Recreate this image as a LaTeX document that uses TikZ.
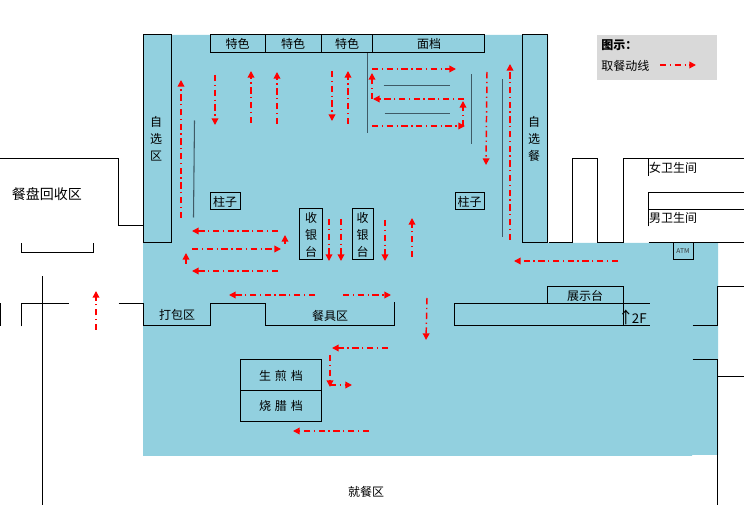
\documentclass[tikz,border=0pt]{standalone}
\usepackage{fontspec}
\setmainfont{Noto Sans CJK SC}
\usetikzlibrary{arrows.meta}
\definecolor{hallblue}{HTML}{92D0DF}
\definecolor{legendgray}{HTML}{D9D9D9}
\definecolor{railgray}{HTML}{3F5A66}
\tikzset{
  wall/.style={line width=0.75pt,black,xshift=0.375pt,yshift=-0.375pt},
  rail/.style={line width=0.8pt,railgray,xshift=0.375pt,yshift=-0.375pt},
  flow/.style={line width=1.1pt,red,dash pattern={on 4.8pt off 2.6pt on 1pt off 2.6pt},-{Triangle[length=5pt,width=5pt]}},
  label/.style={font=\fontsize{9}{9}\selectfont,inner sep=0pt,align=center,text=black},
  tall/.style={label,font=\fontsize{9}{12.8}\selectfont},
}
\begin{document}
\begin{tikzpicture}[x=0.75pt,y=0.75pt,yscale=-1]
\useasboundingbox (0,0) rectangle (744,506);

%Shape: hall floor
\fill [hallblue] (143,35) -- (548,35) -- (548,243) -- (718,243) -- (718,455) -- (692,455) -- (692,456) -- (143,456) -- cycle ;
%Shape: legend
\fill [legendgray] (597,35) rectangle (717,80) ;

%Straight Lines: walls, left
\draw [wall] (0,159) -- (118,159) -- (118,226) -- (143,226) ;
\draw [wall] (21,244) -- (21,253) -- (93,253) -- (93,244) ;
\draw [wall] (42,277) -- (42,506) ;
\draw [wall] (21,327) -- (21,304) -- (68,304) ;
\draw [wall] (0,304) -- (0,327) ;
\draw [wall] (118,304) -- (143,304) -- (143,326) -- (210,326) -- (210,304) -- (265,304) -- (265,326) -- (394,326) -- (394,303) ;
%Straight Lines: walls, right
\draw [wall] (454,304) -- (454,326) -- (649,326) ;
\draw [wall] (454,304) -- (649,304) ;
\draw [wall] (623,304) -- (623,326) ;
\draw [wall] (692,326) -- (717,326) -- (717,287) -- (744,287) ;
\draw [wall] (692,360) -- (717,360) -- (717,506) ;
\draw [wall] (717,377) -- (744,377) ;
\draw [wall] (548,243) -- (572,243) -- (572,159) -- (597,159) -- (597,244) ;
\draw [wall] (597,243) -- (623,243) -- (623,159) -- (744,159) ;
\draw [wall] (648,159) -- (648,177) ;
\draw [wall] (648,227) -- (648,193) -- (744,193) ;
\draw [wall] (648,210) -- (744,210) ;
\draw [wall] (648,243) -- (744,243) ;

%Shape: counters
\draw [wall] (143,35) rectangle (171,243) ;
\draw [wall] (522,35) rectangle (547,243) ;
\draw [wall] (210,35) rectangle (484,53) ;
\draw [wall] (265,35) -- (265,53) ;
\draw [wall] (321,35) -- (321,53) ;
\draw [wall] (372,35) -- (372,53) ;
\draw [wall] (210,193) rectangle (240,210) ;
\draw [wall] (455,193) rectangle (484,210) ;
\draw [wall] (299,209) rectangle (322,260) ;
\draw [wall] (352,209) rectangle (373,260) ;
\draw [wall] (240,360) rectangle (321,422) ;
\draw [wall] (240,391) -- (321,391) ;
\draw [wall] (547,287) rectangle (623,304) ;
\draw [wall] (673,243) rectangle (693,260) ;

%Straight Lines: rails
\draw [rail] (194,121) -- (193,218) ;
\draw [rail] (367,54) -- (367,134) ;
\draw [rail] (383,86) -- (449,86) ;
\draw [rail] (384,114) -- (449,114) ;
\draw [rail] (471,75) -- (471,145) ;
\draw [rail] (502,80) -- (502,238) ;

%Straight Lines: flow arrows
\draw [flow] (181,218) -- (181,80) ;
\draw [flow] (215,75) -- (215,125) ;
\draw [flow] (251,123) -- (251,71) ;
\draw [flow] (277,124) -- (277,72) ;
\draw [flow] (332,71) -- (332,121) ;
\draw [flow] (348,124) -- (348,71) ;
\draw [flow] (329,219) -- (329,261) ;
\draw [flow] (341,219) -- (341,261) ;
\draw [flow] (278,231) -- (192,231) ;
\draw [flow] (192,249) -- (281,249) ;
\draw [flow] (285,244) -- (285,235) ;
\draw [flow] (186,264) -- (186,253) ;
\draw [flow] (278,271) -- (192,271) ;
\draw [flow] (372,69) -- (456,69) ;
\draw [flow] (464,99) -- (373,99) ;
\draw [flow] (372,99) -- (372,73) ;
\draw [flow] (372,126) -- (465,126) ;
\draw [flow] (463,126) -- (463,101) ;
\draw [flow] (487,72) -- (486,165) ;
\draw [flow] (510,240) -- (510,64) ;
\draw [flow] (385,220) -- (385,261) ;
\draw [flow] (412,257) -- (412,218) ;
\draw [flow] (618,261) -- (514,261) ;
\draw [flow] (315,295) -- (229,295) ;
\draw [flow] (343,295) -- (391,295) ;
\draw [flow] (427,298) -- (426,340) ;
\draw [flow] (388,348) -- (332,348) ;
\draw [flow] (330,355) -- (330,387) ;
\draw [flow] (330,385) -- (352,385) ;
\draw [flow] (369,431) -- (293,431) ;
\draw [flow] (96,330) -- (96,291) ;
\draw [flow] (660,65) -- (696,65) ;

% Text Node
\node [label] (specialA) at (237.5,44) {特色};
\node [label] (specialB) at (293,44) {特色};
\node [label] (specialC) at (347,44) {特色};
\node [label] (noodle) at (429,44) {面档};
\node [tall] (selfLeft) at (156,139) {自\\选\\区};
\node [tall] (selfRight) at (534,139) {自\\选\\餐};
\node [label] (pillarLeft) at (225,202) {柱子};
\node [label] (pillarRight) at (469.5,202) {柱子};
\node [tall] (tillLeft) at (311,235) {收\\银\\台};
\node [tall] (tillRight) at (362.5,235) {收\\银\\台};
\node [label,font=\fontsize{10.5}{10.5}\selectfont] (trayReturn) at (47,194) {餐盘回收区};
\node [label] (packing) at (177,315) {打包区};
\node [label] (cutlery) at (330,316) {餐具区};
\node [label] (fried) at (281,376) {生\hspace{3pt}煎\hspace{3pt}档};
\node [label] (roast) at (281,406) {烧\hspace{3pt}腊\hspace{3pt}档};
\node [label] (display) at (585,296) {展示台};
\node [label,font=\fontsize{10}{10}\selectfont,anchor=east] (upstairs) at (647,317) {{\fontsize{12}{12}\selectfont ↑}\hspace{-1.5pt}2F};
\node [label] (dining) at (366,492) {就餐区};
\node [label] (ladies) at (673,168) {女卫生间};
\node [label] (gents) at (673,218) {男卫生间};
\node [label,font=\fontsize{5}{5}\selectfont,text=black!80] (atm) at (683,251) {ATM};
\node [label,font=\bfseries\fontsize{9}{9}\selectfont,anchor=west] (legendTitle) at (601,45) {图示：};
\node [label,anchor=west] (legendFlow) at (601,66) {取餐动线};

\end{tikzpicture}
\end{document}
